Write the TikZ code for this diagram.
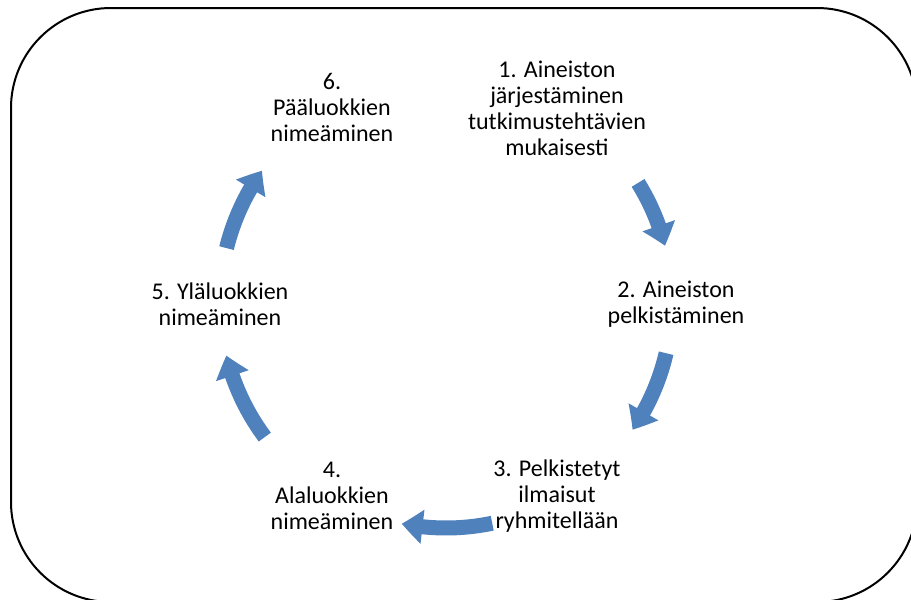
\documentclass[tikz,border=0pt]{standalone}
\usepackage{fontspec}
\setmainfont{Carlito}
\usetikzlibrary{arrows.meta,bending}
\definecolor{arrowblue}{HTML}{4F81BD}
\begin{document}
\begin{tikzpicture}[x=1pt,y=-1pt,
  lbl/.style={align=center, font=\fontsize{24}{26}\selectfont, inner sep=0pt},
  cyc/.style={draw=arrowblue, line width=15pt, -{Triangle[width=33pt,length=21pt,bend]}}]
\useasboundingbox (0,0) rectangle (911,600);
\begin{scope}
\clip (0,0) rectangle (911,600);
\draw[line width=2pt, rounded corners=100pt] (11,8) rectangle (917,602);
\end{scope}
\node[lbl] (n1) at (557,108) {1. Aineiston\\järjestäminen\\tutkimustehtävien\\mukaisesti};
\node[lbl] (n2) at (676,304) {2. Aineiston\\pelkistäminen};
\node[lbl] (n3) at (557,496) {3. Pelkistetyt\\ilmaisut\\ryhmitellään};
\node[lbl] (n4) at (332,496) {4.\\Alaluokkien\\nimeäminen};
\node[lbl] (n5) at (220,304) {5. Yläluokkien\\nimeäminen};
\node[lbl] (n6) at (332,107) {6.\\Pääluokkien\\nimeäminen};
\coordinate (C) at (446,302);
\path (C) ++(-31.8:226) coordinate (a1);
\path (C) ++(13.1:226) coordinate (a2);
\path (C) ++(78.2:226) coordinate (a3);
\path (C) ++(143.3:226) coordinate (a4);
\path (C) ++(193.8:226) coordinate (a5);
\draw[cyc] (a1) arc[start angle=-31.8, end angle=-14.4, radius=226];
\draw[cyc] (a2) arc[start angle=13.1, end angle=34.4, radius=226];
\draw[cyc] (a3) arc[start angle=78.2, end angle=101.3, radius=226];
\draw[cyc] (a4) arc[start angle=143.3, end angle=166.3, radius=226];
\draw[cyc] (a5) arc[start angle=193.8, end angle=215.5, radius=226];
\end{tikzpicture}
\end{document}
